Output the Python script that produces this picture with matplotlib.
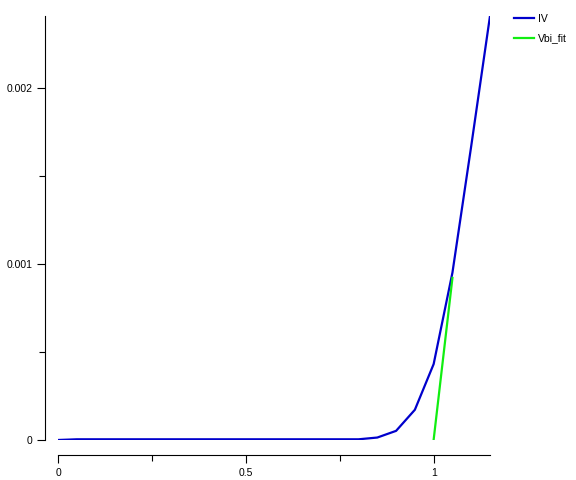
import matplotlib
matplotlib.use('Agg')
import matplotlib.pyplot as plt
from matplotlib.ticker import MultipleLocator, FuncFormatter

# IV curve (voltage, current)
iv_x = [0.0, 0.05, 0.1, 0.15, 0.2, 0.25, 0.3, 0.35, 0.4, 0.45, 0.5, 0.55, 0.6,
        0.65, 0.7, 0.75, 0.8, 0.85, 0.9, 0.95, 1.0, 1.05, 1.1, 1.15]
iv_y = [-0.000002, 0.000002, 0.000002, 0.000002, 0.000002, 0.000002, 0.000002,
        0.000002, 0.000002, 0.000002, 0.000002, 0.000002, 0.000002, 0.000002,
        0.000002, 0.000002, 0.000002, 0.000012, 0.00005, 0.00017, 0.00043,
        0.00095, 0.00167, 0.00241]

# linear fit for built-in voltage
fit_x = [1.0, 1.05]
fit_y = [0.0, 0.00092]

plt.rcParams['font.family'] = ['Liberation Sans', 'DejaVu Sans']

fig = plt.figure(figsize=(5.76, 4.8), dpi=100)
ax = fig.add_axes([58 / 576, 40 / 480, 432 / 576, 424 / 480])

ax.plot(iv_x, iv_y, color='#0000cc', lw=1.6, label='IV')
ax.plot(fit_x, fit_y, color='#11ee11', lw=1.6, label='Vbi_fit')

ax.set_xlim(0, 1.15)
ax.set_ylim(-0.000002, 0.00241)

ax.spines['top'].set_visible(False)
ax.spines['right'].set_visible(False)
ax.spines['left'].set_position(('outward', 9.5))
ax.spines['bottom'].set_position(('outward', 11))

ax.xaxis.set_major_locator(MultipleLocator(0.5))
ax.xaxis.set_minor_locator(MultipleLocator(0.25))
ax.yaxis.set_major_locator(MultipleLocator(0.001))
ax.yaxis.set_minor_locator(MultipleLocator(0.0005))
ax.xaxis.set_major_formatter(FuncFormatter(lambda v, p: '%g' % round(v, 6)))
ax.yaxis.set_major_formatter(FuncFormatter(lambda v, p: '%g' % round(v, 6)))

ax.tick_params(which='major', length=6, width=0.8, labelsize=7.5, pad=3)
ax.tick_params(which='minor', length=4, width=0.8)

ax.legend(loc='upper left', bbox_to_anchor=(1.033, 1.027), frameon=False,
          fontsize=7.5, handlelength=2.0, handletextpad=0.35, labelspacing=0.9)

fig.savefig('out.png', dpi=100)
